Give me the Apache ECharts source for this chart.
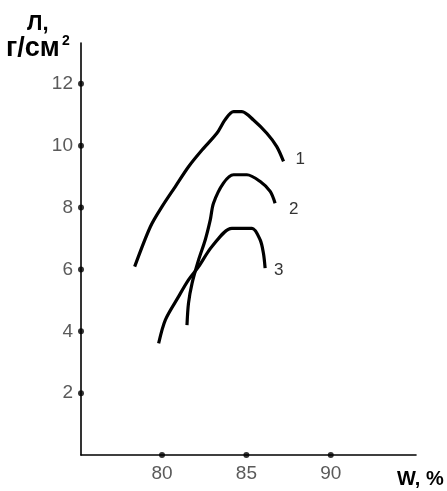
<!DOCTYPE html>
<html>
<head>
<meta charset="utf-8">
<script src="https://cdn.jsdelivr.net/npm/echarts@6/dist/echarts.min.js"></script>
<style>
  html, body { margin: 0; padding: 0; background: #fff; }
  #chart { width: 447px; height: 491px; }
</style>
</head>
<body>
<div id="chart"></div>
<script>
// Moisture W (%) vs. strength Л (g/cm²) for three samples
const curve1 = [
  [78.38, 6.09], [79.31, 7.38], [80.0, 8.03], [80.79, 8.68], [81.57, 9.32],
  [82.37, 9.86], [83.25, 10.40], [83.75, 10.85], [84.24, 11.10], [84.73, 11.10],
  [85.42, 10.83], [86.21, 10.40], [86.80, 9.97], [87.20, 9.49]
];
const curve2 = [
  [81.48, 4.20], [81.57, 4.91], [81.78, 5.55], [82.17, 6.31], [82.56, 6.95],
  [82.86, 7.60], [83.05, 8.14], [83.64, 8.79], [84.24, 9.06], [85.03, 9.06],
  [85.82, 8.84], [86.41, 8.52], [86.70, 8.14]
];
const curve3 = [
  [79.80, 3.61], [80.20, 4.37], [80.98, 5.12], [81.57, 5.66], [82.17, 6.09],
  [82.96, 6.74], [84.14, 7.33], [85.33, 7.33], [85.82, 6.95], [86.01, 6.52],
  [86.11, 6.04]
];
const curveNames = ['1', '2', '3'];
const xTicks = [80, 85, 90];
const yTicks = [2, 4, 6, 8, 10, 12];

const X_MIN = 75.2, X_MAX = 95.05, Y_MIN = 0, Y_MAX = 13.32;

const labelFont = { fontFamily: 'Liberation Sans', fontSize: 19, color: '#5a5a5a' };

function curveSeries(name, data, offset) {
  return {
    name: name,
    type: 'line',
    data: data,
    smooth: 0.3,
    symbol: 'none',
    lineStyle: { color: '#000', width: 3.2 },
    endLabel: {
      show: true,
      formatter: name,
      offset: offset,
      fontFamily: 'Liberation Sans',
      fontSize: 17,
      color: '#333'
    },
    z: 3
  };
}

const chart = echarts.init(document.getElementById('chart'), null, { renderer: 'canvas' });
chart.setOption({
  animation: false,
  backgroundColor: '#fff',
  grid: { left: 81, right: 31, top: 43, bottom: 36 },
  xAxis: {
    type: 'value',
    min: X_MIN,
    max: X_MAX,
    splitLine: { show: false },
    axisLine: { lineStyle: { color: '#000', width: 1.6 } },
    axisTick: { show: false },
    axisLabel: Object.assign({ customValues: xTicks, margin: 9 }, labelFont)
  },
  yAxis: {
    type: 'value',
    min: Y_MIN,
    max: Y_MAX,
    splitLine: { show: false },
    axisLine: { show: true, lineStyle: { color: '#000', width: 1.6 } },
    axisTick: { show: false },
    axisLabel: Object.assign({ customValues: yTicks, margin: 8 }, labelFont)
  },
  graphic: [
    { type: 'text', left: 27, top: 13,
      style: { text: 'Л,', font: 'bold 22px "Liberation Sans"', fill: '#000' } },
    { type: 'text', left: 6, top: 35,
      style: { text: 'г/см', font: 'bold 27px "Liberation Sans"', fill: '#000' } },
    { type: 'text', left: 62, top: 34,
      style: { text: '2', font: 'bold 14px "Liberation Sans"', fill: '#000' } },
    { type: 'text', left: 397, top: 469,
      style: { text: 'W, %', font: 'bold 20px "Liberation Sans"', fill: '#000' } }
  ],
  series: [
    curveSeries(curveNames[0], curve1, [4, -2]),
    curveSeries(curveNames[1], curve2, [6, 6]),
    curveSeries(curveNames[2], curve3, [1, 2]),
    {
      type: 'scatter',
      symbolSize: 6,
      clip: false,
      itemStyle: { color: '#000' },
      data: xTicks.map(v => [v, Y_MIN]).concat(yTicks.map(v => [X_MIN, v])),
      z: 4
    }
  ]
});
</script>
</body>
</html>
